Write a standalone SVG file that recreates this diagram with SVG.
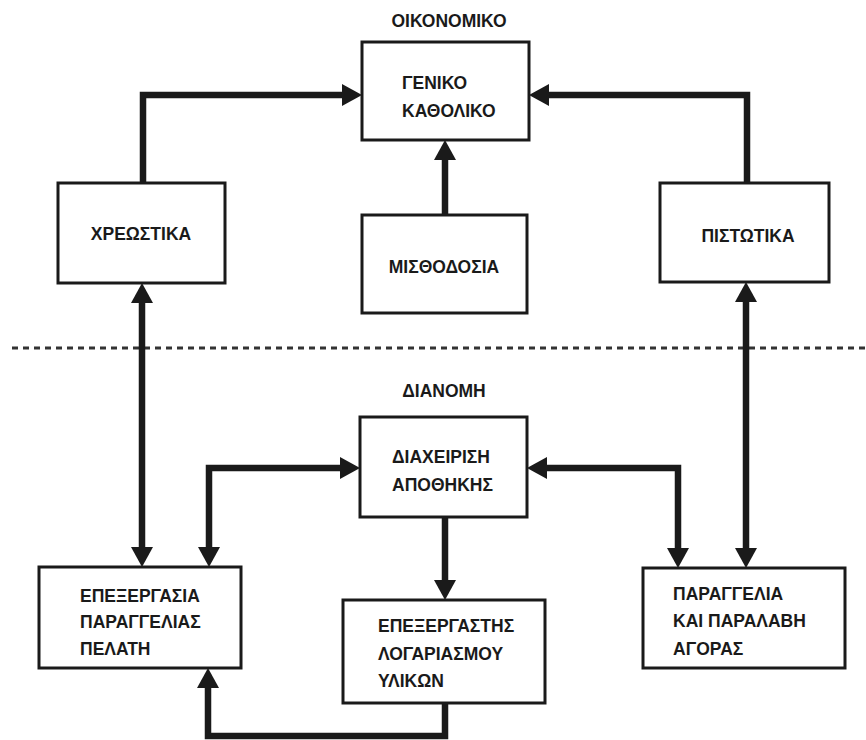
<svg xmlns="http://www.w3.org/2000/svg" width="866" height="740" viewBox="0 0 866 740">
  <style>
    .box { fill: #ffffff; stroke: #1a1a1a; stroke-width: 3; }
    .t { font-family: "Liberation Sans", Arial, sans-serif; font-size: 17.5px; font-weight: bold; fill: #1a1a1a; }
    .c { text-anchor: middle; }
    .con { fill: none; stroke: #1a1a1a; stroke-width: 6.5; stroke-linejoin: miter; }
    .sep { fill: none; stroke: #333333; stroke-width: 3; stroke-dasharray: 6 5; }
  </style>
  <defs>
    <marker id="ah" markerUnits="userSpaceOnUse" markerWidth="20" markerHeight="22" refX="13" refY="11" orient="auto-start-reverse" viewBox="0 0 20 22">
      <path d="M0,0 L20,11 L0,22 Z" fill="#1a1a1a"/>
    </marker>
  </defs>
  <rect width="866" height="740" fill="#ffffff"/>

  <line class="sep" x1="12" y1="348" x2="866" y2="348"/>
  <text class="t c" x="449" y="27">ΟΙΚΟΝΟΜΙΚΟ</text>
  <text class="t c" x="444" y="397">ΔΙΑΝΟΜΗ</text>

  <g id="connectors">
    <path class="con" d="M143,183 V95 H355" marker-end="url(#ah)"/>
    <path class="con" d="M747,183 V95 H536" marker-end="url(#ah)"/>
    <path class="con" d="M445,215 V147" marker-end="url(#ah)"/>
    <path class="con" d="M142,290 V560" marker-start="url(#ah)" marker-end="url(#ah)"/>
    <path class="con" d="M746,289 V561" marker-start="url(#ah)" marker-end="url(#ah)"/>
    <path class="con" d="M353,468 H209 V560" marker-start="url(#ah)" marker-end="url(#ah)"/>
    <path class="con" d="M534,468 H678 V561" marker-start="url(#ah)" marker-end="url(#ah)"/>
    <path class="con" d="M445,517 V593" marker-end="url(#ah)"/>
    <path class="con" d="M445,703 V736 H208 V675" marker-end="url(#ah)"/>
  </g>

  <g id="geniko">
    <rect class="box" x="362" y="42" width="167" height="98"/>
    <text class="t" x="402" y="89">ΓΕΝΙΚΟ</text>
    <text class="t" x="402" y="117">ΚΑΘΟΛΙΚΟ</text>
  </g>
  <g id="xreostika">
    <rect class="box" x="58" y="183" width="167" height="100"/>
    <text class="t c" x="141" y="240">ΧΡΕΩΣΤΙΚΑ</text>
  </g>
  <g id="pistotika">
    <rect class="box" x="660" y="183" width="169" height="99"/>
    <text class="t c" x="748" y="242">ΠΙΣΤΩΤΙΚΑ</text>
  </g>
  <g id="misthodosia">
    <rect class="box" x="362" y="215" width="165" height="98"/>
    <text class="t c" x="444" y="273">ΜΙΣΘΟΔΟΣΙΑ</text>
  </g>
  <g id="diaxeirisi">
    <rect class="box" x="360" y="417" width="167" height="100"/>
    <text class="t" x="392" y="463">ΔΙΑΧΕΙΡΙΣΗ</text>
    <text class="t" x="392" y="491">ΑΠΟΘΗΚΗΣ</text>
  </g>
  <g id="epexergasia">
    <rect class="box" x="39" y="567" width="202" height="101"/>
    <text class="t" x="80" y="602">ΕΠΕΞΕΡΓΑΣΙΑ</text>
    <text class="t" x="80" y="628">ΠΑΡΑΓΓΕΛΙΑΣ</text>
    <text class="t" x="80" y="655">ΠΕΛΑΤΗ</text>
  </g>
  <g id="epexergastis">
    <rect class="box" x="343" y="600" width="202" height="103"/>
    <text class="t" x="378" y="632">ΕΠΕΞΕΡΓΑΣΤΗΣ</text>
    <text class="t" x="378" y="660">ΛΟΓΑΡΙΑΣΜΟΥ</text>
    <text class="t" x="378" y="687">ΥΛΙΚΩΝ</text>
  </g>
  <g id="paraggelia">
    <rect class="box" x="643" y="568" width="202" height="100"/>
    <text class="t" x="673" y="600">ΠΑΡΑΓΓΕΛΙΑ</text>
    <text class="t" x="673" y="627">ΚΑΙ ΠΑΡΑΛΑΒΗ</text>
    <text class="t" x="673" y="655">ΑΓΟΡΑΣ</text>
  </g>
</svg>
